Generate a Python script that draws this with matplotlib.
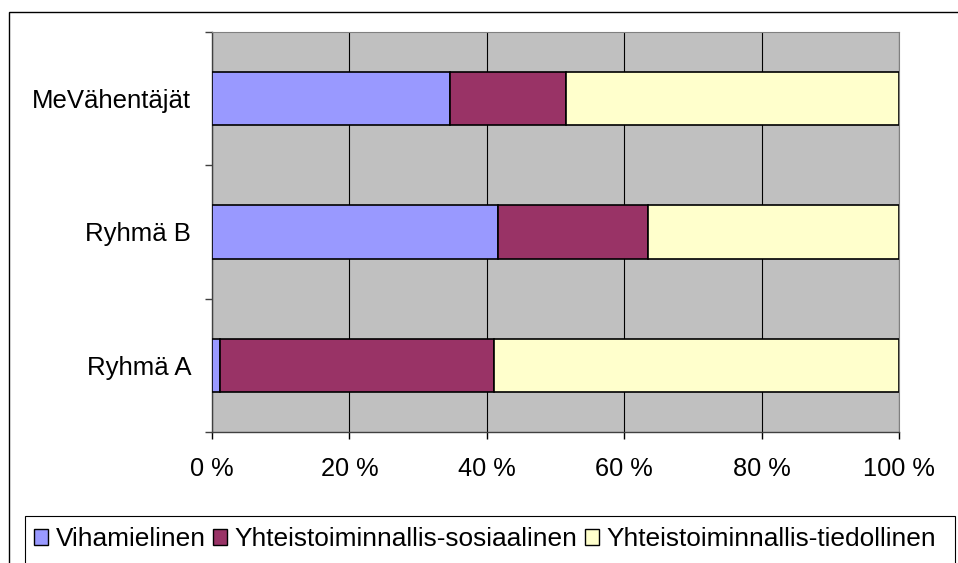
import matplotlib.pyplot as plt
from matplotlib.patches import Patch, Rectangle
import numpy as np

plt.rcParams['font.family'] = ['Liberation Sans', 'DejaVu Sans']

groups = ['Ryhmä A', 'Ryhmä B', 'MeVähentäjät']
series = ['Vihamielinen', 'Yhteistoiminnallis-sosiaalinen', 'Yhteistoiminnallis-tiedollinen']
vihamielinen = [1.1, 41.7, 34.7]
sosiaalinen = [40.0, 21.8, 16.9]
tiedollinen = [58.9, 36.5, 48.4]
colors = ['#9999FF', '#993366', '#FFFFCC']
xticks = [0, 20, 40, 60, 80, 100]
xlabels = ['0 %', '20 %', '40 %', '60 %', '80 %', '100 %']

W, H = 958, 563
fig = plt.figure(figsize=(W / 100, H / 100), dpi=100)

# outer chart frame (cut off at right and bottom)
fig.patches.append(Rectangle((9 / W, -0.1), 1.2, 1 - 12 / H + 0.1, transform=fig.transFigure,
                             facecolor='none', edgecolor='black', lw=1.0))

ax = fig.add_axes([212 / W, 1 - 432 / H, (899 - 212) / W, (432 - 32) / H])
ax.set_facecolor('#C0C0C0')

y = np.arange(len(groups))
left = np.zeros(len(groups))
for vals, name, c in zip([vihamielinen, sosiaalinen, tiedollinen], series, colors):
    ax.barh(y, vals, left=left, height=0.4, color=c, edgecolor='black', lw=1.2, label=name, zorder=3)
    left += np.array(vals)

ax.set_xlim(0, 100)
ax.set_ylim(-0.5, 2.5)
ax.set_xticks(xticks)
ax.set_xticklabels(xlabels, fontsize=18.3)
ax.set_yticks(y)
ax.set_yticklabels(groups, fontsize=18.5)
ax.set_yticks(np.arange(-0.5, 3.0, 1.0), minor=True)
ax.tick_params(axis='y', which='major', length=0, pad=15)
ax.tick_params(axis='y', which='minor', length=5, width=1.0, color='#404040')
ax.tick_params(axis='x', length=5, width=1.0, color='black', pad=13)
ax.xaxis.grid(True, color='black', lw=0.8, zorder=1)
ax.set_axisbelow(True)
for s in ['top', 'right']:
    ax.spines[s].set_color('#808080')
for s in ['left', 'bottom']:
    ax.spines[s].set_color('#404040')
    ax.spines[s].set_linewidth(1.0)

# legend box
fig.patches.append(Rectangle((25 / W, -0.1), (955 - 25) / W, 1 - 516 / H + 0.1, transform=fig.transFigure,
                             facecolor='none', edgecolor='black', lw=0.8))
handles = [Patch(facecolor=c, edgecolor='black', lw=1.0) for c in colors]
fig.legend(handles, series, loc='center left', bbox_to_anchor=(34 / W, 1 - 539 / H), ncol=3,
           frameon=False, fontsize=18.9, handlelength=0.53, handleheight=0.56, handletextpad=0.3,
           columnspacing=0.28, borderpad=0, borderaxespad=0)

fig.savefig('out.png', dpi=100)
